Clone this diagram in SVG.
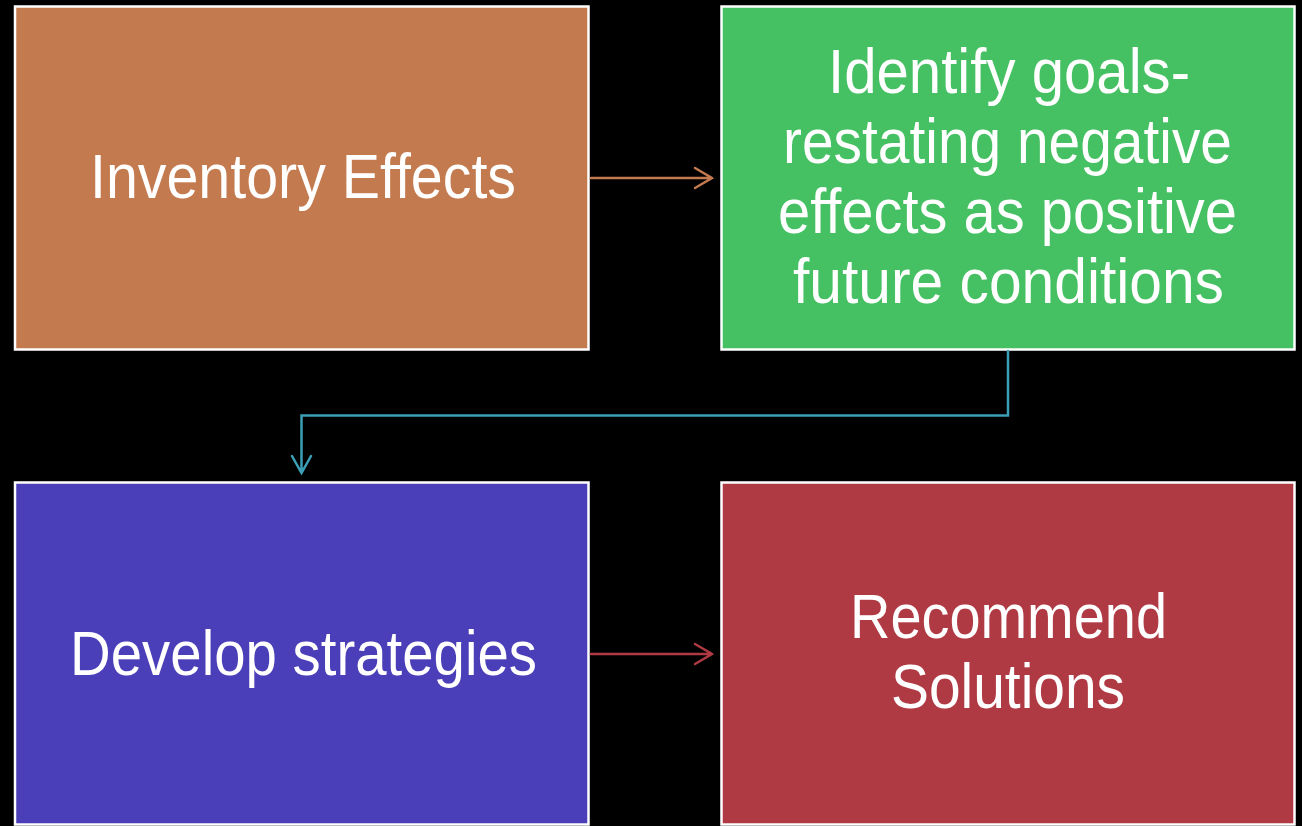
<svg xmlns="http://www.w3.org/2000/svg" width="1302" height="826" viewBox="0 0 1302 826">
<style>
.box{stroke:#fff;stroke-width:2.5}
.t{font-family:"Liberation Sans Narrow","Arial Narrow","Liberation Sans",Arial,sans-serif;font-size:63px;fill:#fff;text-anchor:middle}
.c{fill:none;stroke-width:2.5;stroke-linecap:round;stroke-linejoin:miter}
</style>
<rect x="0" y="0" width="1302" height="826" fill="#000"/>
<g id="node-inventory">
<rect class="box" x="15" y="6.5" width="573.5" height="343" fill="#C47A4F"/>
<text class="t" x="303" y="198" textLength="426" lengthAdjust="spacingAndGlyphs">Inventory Effects</text>
</g>
<g id="node-goals">
<rect class="box" x="721.5" y="6.5" width="573" height="343" fill="#45C062"/>
<text class="t" x="1009" y="93" textLength="362" lengthAdjust="spacingAndGlyphs">Identify goals-</text>
<text class="t" x="1007.5" y="163" textLength="449" lengthAdjust="spacingAndGlyphs">restating negative</text>
<text class="t" x="1007.5" y="233" textLength="459" lengthAdjust="spacingAndGlyphs">effects as positive</text>
<text class="t" x="1008.5" y="303" textLength="431" lengthAdjust="spacingAndGlyphs">future conditions</text>
</g>
<g id="node-strategies">
<rect class="box" x="15" y="482.5" width="573.5" height="342" fill="#4A3FB8"/>
<text class="t" x="303.5" y="675" textLength="467" lengthAdjust="spacingAndGlyphs">Develop strategies</text>
</g>
<g id="node-solutions">
<rect class="box" x="721.5" y="482.5" width="573" height="342" fill="#B03A43"/>
<text class="t" x="1008.5" y="638" textLength="317" lengthAdjust="spacingAndGlyphs">Recommend</text>
<text class="t" x="1008" y="708" textLength="234" lengthAdjust="spacingAndGlyphs">Solutions</text>
</g>
<g id="connectors">
<path class="c" stroke="#C47A4F" d="M591 178 H712 M695 168 L712 178 L695 188"/>
<path class="c" stroke="#3BA0B5" d="M1008 351 V415.5 H301.5 V473 M292 456 L301.5 473 L311 456"/>
<path class="c" stroke="#B03A43" d="M591 654 H712 M695 644 L712 654 L695 664"/>
</g>
</svg>
